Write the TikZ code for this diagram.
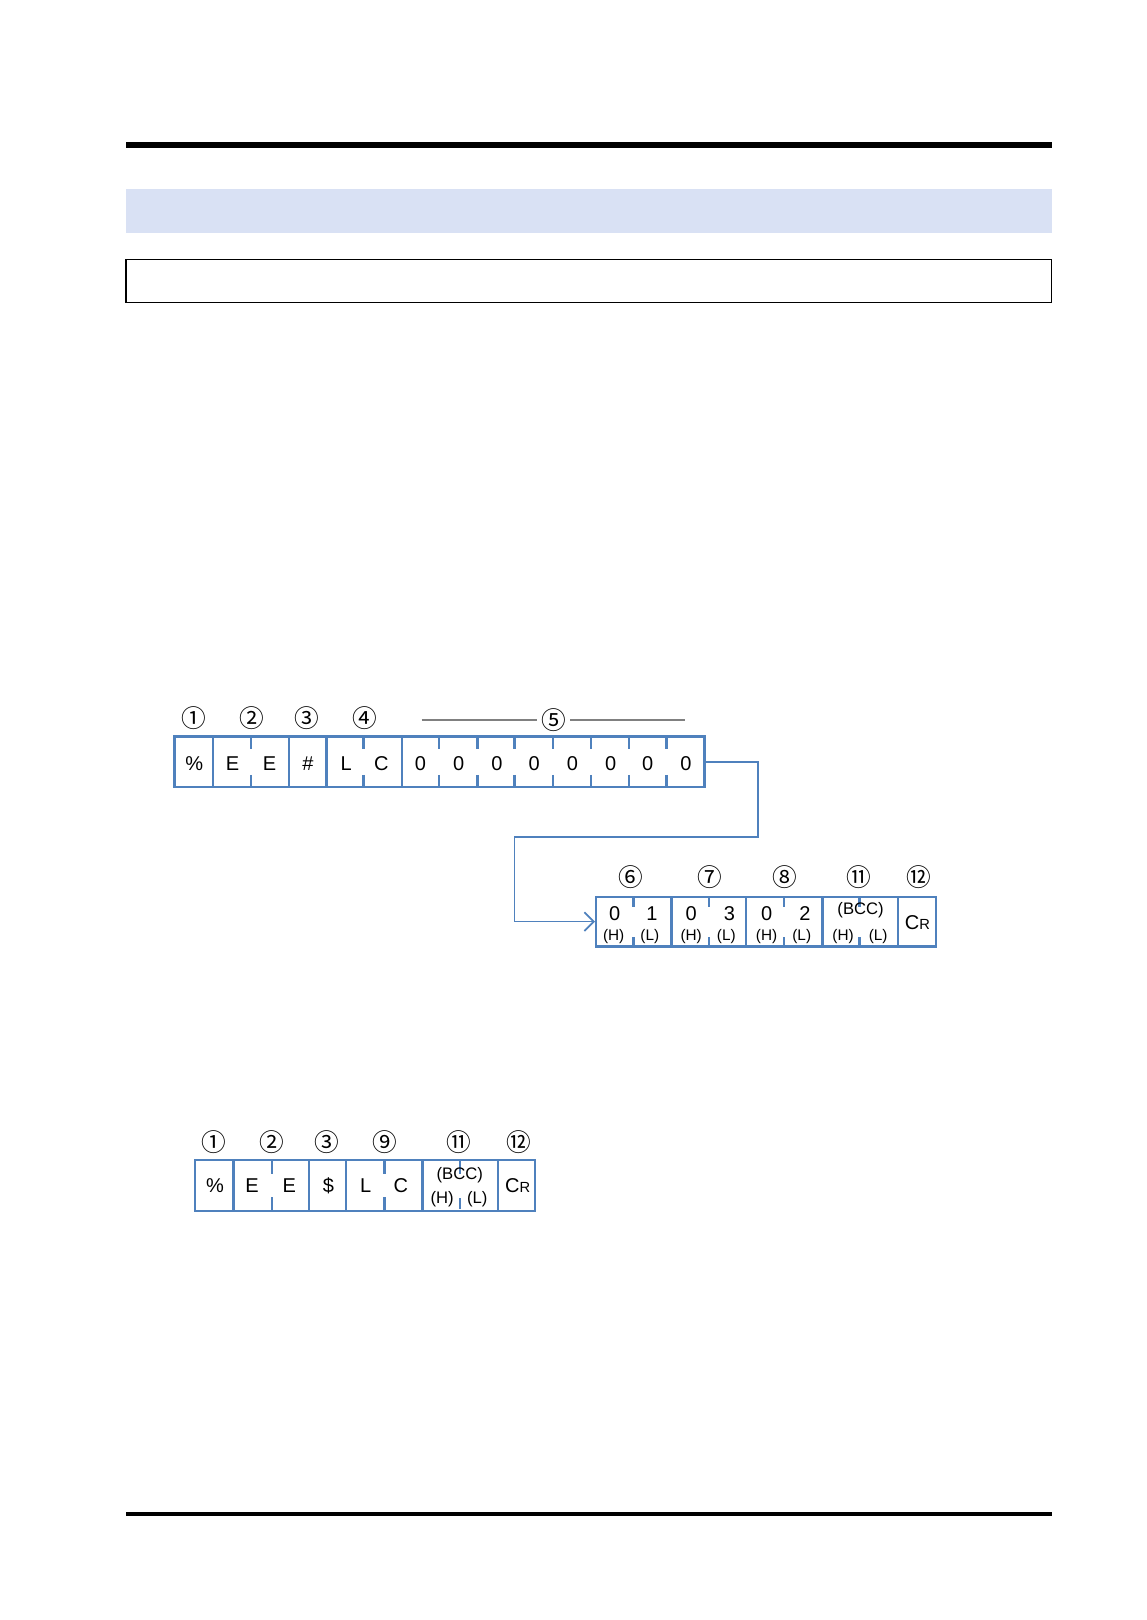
\documentclass[tikz,border=0pt]{standalone}
\usepackage{fontspec}
\setmainfont{Liberation Sans}
\newfontfamily\circfont{Noto Sans CJK JP}
\usetikzlibrary{arrows.meta,fit}
\definecolor{bl}{RGB}{79,129,189}
\definecolor{band}{RGB}{217,225,244}
\definecolor{gl}{RGB}{128,128,128}
\begin{document}
\begin{tikzpicture}[x=0.775pt,y=-0.775pt,
  cellbox/.style={draw=bl,line width=1.8pt,inner sep=0pt},
  tick/.style={draw=bl,line width=1.8pt},
  big/.style={inner sep=0pt,font=\fontsize{15}{17}\selectfont},
  small/.style={inner sep=0pt,font=\fontsize{11.5}{13}\selectfont},
  circ/.style={inner sep=0pt,font=\circfont\fontsize{18.5}{20}\selectfont},
  conn/.style={draw=bl,line width=1.3pt}]
\useasboundingbox (0,0) rectangle (1110,1568);
% page furniture
\fill[black] (122,137) rectangle (1018,143);
\fill[band] (122,183) rectangle (1018,226);
\draw[line width=0.9pt] (122,251) rectangle (1018,293);
\fill[black] (122,1463) rectangle (1018,1467);

% ---------- row 1 ----------
\node[circ] (n1a) at (188,695) {①};
\node[circ] (n2a) at (244,695) {②};
\node[circ] (n3a) at (297,695) {③};
\node[circ] (n4a) at (353,695) {④};
\node[circ] (n5a) at (536,697) {⑤};
\coordinate (g1) at (408,697);
\coordinate (g2) at (663,697);
\draw[gl,line width=1.6pt] (g1) -- ([xshift=-3pt]n5a.west|-g1);
\draw[gl,line width=1.6pt] ([xshift=3pt]n5a.east|-g2) -- (g2);

\node[cellbox,fit={(169,713) (206,762)}] (pct1) {};
\node[cellbox,fit={(206,713) (280,762)}] (ee1) {};
\node[cellbox,fit={(280,713) (316,762)}] (hash1) {};
\node[cellbox,fit={(316,713) (389,762)}] (lc1) {};
\node[cellbox,fit={(389,713) (682,762)}] (zeros1) {};
\foreach \x in {243,352,425,462,498,535,572,609,645}{
  \draw[tick] (\x,713) -- (\x,725);
  \draw[tick] (\x,750) -- (\x,762);
}
\node[big] (t1) at (188,739) {\%};
\node[big] (t2) at (225,739) {E};
\node[big] (t3) at (261,739) {E};
\node[big] (t4) at (298,739) {\#};
\node[big] (t5) at (335,739) {L};
\node[big] (t6) at (369,739) {C};
\foreach \x [count=\i] in {407,444,481,517,554,591,627,664}{
  \node[big] (z\i) at (\x,739) {0};
}

% ---------- row 2 ----------
\node[circ] (n6b) at (611,849) {⑥};
\node[circ] (n7b) at (687,849) {⑦};
\node[circ] (n8b) at (760,849) {⑧};
\node[circ] (n11b) at (831,849) {⑪};
\node[circ] (n12b) at (889,849) {⑫};

\node[cellbox,fit={(577,868) (650,916)}] (c6) {};
\node[cellbox,fit={(650,868) (722,916)}] (c7) {};
\node[cellbox,fit={(722,868) (796,916)}] (c8) {};
\node[cellbox,fit={(796,868) (869,916)}] (c11) {};
\node[cellbox,fit={(869,868) (906,916)}] (c12) {};
\foreach \x in {613,686,759,832}{
  \draw[tick] (\x,868) -- (\x,878);
  \draw[tick] (\x,907) -- (\x,916);
}
\node[big] (a1) at (595,884) {0};
\node[big] (a2) at (631,884) {1};
\node[small] (a3) at (594,906) {(H)};
\node[small] (a4) at (629,906) {(L)};
\node[big] (b1) at (669,884) {0};
\node[big] (b2) at (706,884) {3};
\node[small] (b3) at (669,906) {(H)};
\node[small] (b4) at (703,906) {(L)};
\node[big] (d1) at (742,884) {0};
\node[big] (d2) at (779,884) {2};
\node[small] (d3) at (742,906) {(H)};
\node[small] (d4) at (776,906) {(L)};
\node[small,font=\fontsize{12.5}{14}\selectfont] (e1) at (833,881) {(BCC)};
\node[small] (e3) at (816,906) {(H)};
\node[small] (e4) at (850,906) {(L)};
\node[big] (cr2) at (888,893) {C\fontsize{11}{12}\selectfont R};

% connector
\coordinate (k1) at (734,810);
\coordinate (k2) at (498,810);
\draw[conn,-{Straight Barb[length=7pt,width=14pt,line width=1.3pt]}]
  (zeros1.east) -| (k1) -- (k2) |- (c6.west);

% ---------- row 3 ----------
\node[circ] (n1c) at (207,1105) {①};
\node[circ] (n2c) at (263,1105) {②};
\node[circ] (n3c) at (316,1105) {③};
\node[circ] (n9c) at (372,1105) {⑨};
\node[circ] (n11c) at (444,1105) {⑪};
\node[circ] (n12c) at (502,1105) {⑫};

\node[cellbox,fit={(189,1123) (226,1172)}] (pct3) {};
\node[cellbox,fit={(226,1123) (299,1172)}] (ee3) {};
\node[cellbox,fit={(299,1123) (335,1172)}] (dol3) {};
\node[cellbox,fit={(335,1123) (409,1172)}] (lc3) {};
\node[cellbox,fit={(409,1123) (482,1172)}] (bcc3) {};
\node[cellbox,fit={(482,1123) (518,1172)}] (cr3box) {};
\foreach \x in {263,372}{
  \draw[tick] (\x,1123) -- (\x,1136);
  \draw[tick] (\x,1159) -- (\x,1172);
}
\draw[tick] (445,1123) -- (445,1136);
\draw[tick] (445,1160) -- (445,1170);
\node[big] (s1) at (208,1148) {\%};
\node[big] (s2) at (244,1148) {E};
\node[big] (s3) at (280,1148) {E};
\node[big] (s4) at (318,1148) {\$};
\node[big] (s5) at (354,1148) {L};
\node[big] (s6) at (388,1148) {C};
\node[small,font=\fontsize{12.5}{14}\selectfont] (s7) at (445,1137) {(BCC)};
\node[small,font=\fontsize{12.5}{14}\selectfont] (s8) at (428,1161) {(H)};
\node[small,font=\fontsize{12.5}{14}\selectfont] (s9) at (462,1161) {(L)};
\node[big] (cr3) at (501,1148) {C\fontsize{11}{12}\selectfont R};
\end{tikzpicture}
\end{document}
